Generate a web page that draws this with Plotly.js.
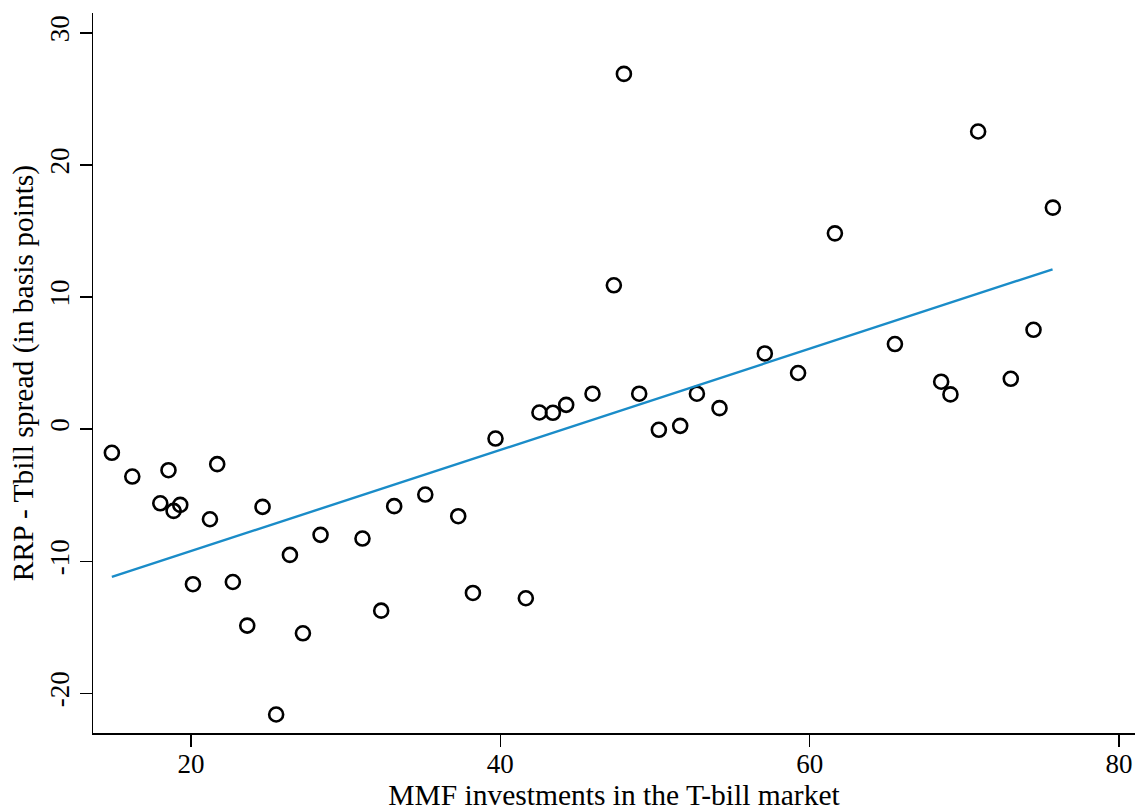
<!DOCTYPE html>
<html>
<head>
<meta charset="utf-8">
<script src="https://cdn.plot.ly/plotly-3.0.1.min.js"></script>
<style>html,body{margin:0;padding:0;background:#fff;}#chart{width:1135px;height:811px;}</style>
</head>
<body>
<div id="chart"></div>
<script>
const mmfShare = [14.89,16.21,18.55,18.02,18.88,19.31,21.70,21.23,24.63,20.13,22.71,23.64,26.40,28.38,27.24,25.51,31.09,32.30,33.14,
  35.15,37.28,38.23,39.69,41.65,42.53,43.40,44.26,45.96,48.98,50.25,51.63,54.17,52.71,
  47.99,47.34,57.10,59.25,
  61.63,70.89,75.72,65.51,68.50,69.10,73.00,74.47];
const spreadBp = [-1.79,-3.59,-3.11,-5.61,-6.19,-5.73,-2.65,-6.82,-5.88,-11.74,-11.57,-14.87,-9.52,-8.00,-15.45,-21.60,-8.28,-13.74,-5.83,
  -4.95,-6.59,-12.40,-0.71,-12.80,1.26,1.24,1.84,2.68,2.68,-0.05,0.25,1.59,2.68,
  26.89,10.89,5.73,4.25,
  14.82,22.53,16.77,6.44,3.59,2.63,3.81,7.52];
const fitX = [14.89, 75.70];
const fitY = [-11.19, 12.10];
const xTicks = [20, 40, 60, 80];
const yTicks = [-20, -10, 0, 10, 20, 30];

const serif = "'Liberation Serif', 'Times New Roman', Times, serif";

const traces = [
  {x: mmfShare, y: spreadBp, type: 'scatter', mode: 'markers',
   marker: {symbol: 'circle-open', size: 14, color: '#000', line: {color: '#000', width: 2.6}},
   hoverinfo: 'x+y'},
  {x: fitX, y: fitY, type: 'scatter', mode: 'lines',
   line: {color: '#1a8cc8', width: 2.4}}
];

const layout = {
  width: 1135, height: 811,
  margin: {l: 93, r: 0, t: 13, b: 78},
  paper_bgcolor: '#fff', plot_bgcolor: '#fff',
  showlegend: false,
  font: {family: serif, color: '#000', size: 27},
  xaxis: {
    range: [13.67, 81.03], tickvals: xTicks, ticktext: xTicks.map(String),
    showgrid: false, zeroline: false, showline: true, linecolor: '#000', linewidth: 1.5,
    ticks: 'outside', ticklen: 12, tickwidth: 1.5, tickcolor: '#000',
    ticklabelstandoff: -6,
    tickfont: {family: serif, size: 27, color: '#000'},
    title: {text: 'MMF investments in the T-bill market', font: {family: serif, size: 29.5, color: '#000'}, standoff: 4}
  },
  yaxis: {
    range: [-23.0, 31.5], tickvals: yTicks, ticktext: yTicks.map(String),
    showgrid: false, zeroline: false, showline: true, linecolor: '#000', linewidth: 1.5,
    ticks: 'outside', ticklen: 12, tickwidth: 1.5, tickcolor: '#000',
    tickangle: -90,
    tickfont: {family: serif, size: 27, color: '#000'},
    title: {text: 'RRP - Tbill spread (in basis points)', font: {family: serif, size: 29.5, color: '#000'}, standoff: 2}
  }
};

Plotly.newPlot('chart', traces, layout, {displayModeBar: false, staticPlot: true});
</script>
</body>
</html>
